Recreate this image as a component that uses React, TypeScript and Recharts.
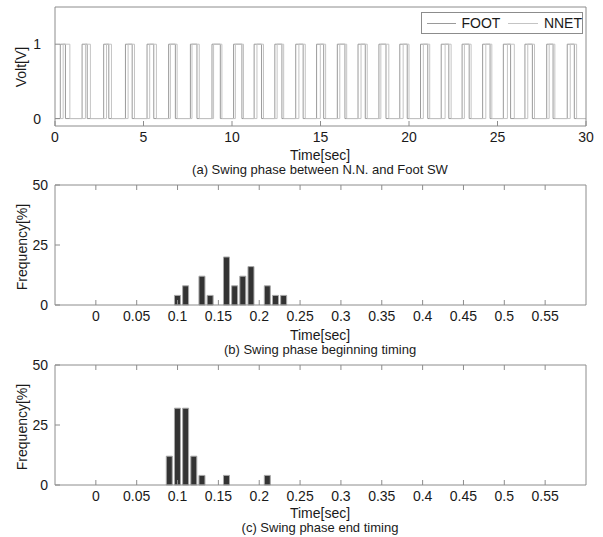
import React from 'react';
import { LineChart, Line, BarChart, Bar, XAxis, YAxis } from 'recharts';

// (a) switch signals: rise / fall times [sec]
const footRise = [0.30, 1.53, 2.75, 3.98, 5.20, 6.42, 7.65, 8.87, 10.09, 11.25, 12.42, 13.60, 14.78, 15.95, 17.12, 18.30, 19.48, 20.65, 21.82, 23.00, 24.16, 25.33, 26.55, 27.78, 28.94];
const footFall = [0.59, 1.82, 3.04, 4.36, 5.58, 6.80, 8.02, 9.34, 10.56, 11.67, 12.82, 14.02, 15.18, 16.38, 17.53, 18.70, 19.90, 21.06, 22.25, 23.40, 24.58, 25.74, 26.97, 28.14, 29.34];
const nnetRise = [0.46, 1.72, 2.91, 4.13, 5.35, 6.52, 7.74, 8.96, 10.19, 11.41, 12.55, 13.78, 14.99, 16.09, 17.29, 18.41, 19.67, 20.81, 22.04, 23.13, 24.34, 25.56, 26.71, 27.92, 29.11];
const nnetFall = [0.84, 2.00, 3.19, 4.49, 5.73, 6.90, 8.15, 9.43, 10.65, 11.78, 12.92, 14.14, 15.29, 16.48, 17.64, 18.86, 20.00, 21.17, 22.38, 23.51, 24.68, 25.95, 27.09, 28.24, 29.47];
const timeTicks = [0, 5, 10, 15, 20, 25, 30];
const voltTicks = [0, 1];

// (b) beginning timing histogram
const beginBins = [0.10, 0.11, 0.13, 0.14, 0.16, 0.17, 0.18, 0.19, 0.21, 0.22, 0.23];
const beginFreq = [4, 8, 12, 4, 20, 8, 12, 16, 8, 4, 4];
// (c) end timing histogram
const endBins = [0.09, 0.10, 0.11, 0.12, 0.13, 0.16, 0.21];
const endFreq = [12, 32, 32, 12, 4, 4, 4];

const histTicks = [0, 0.05, 0.1, 0.15, 0.2, 0.25, 0.3, 0.35, 0.4, 0.45, 0.5, 0.55];
const freqTicks = [0, 25, 50];

const AXIS = '#8c8c8c';
const FONT = '"Liberation Sans", Arial, sans-serif';
const TXT = '#1a1a1a';

const toSteps = (rise: number[], fall: number[]) => {
  const pts = [{ t: 0, v: 0 }];
  rise.forEach((r, i) => {
    pts.push({ t: r, v: 1 });
    pts.push({ t: fall[i], v: 0 });
  });
  pts.push({ t: 30, v: 0 });
  return pts;
};

const toHist = (bins: number[], freq: number[]) => bins.map((b, i) => ({ t: b, f: freq[i] }));

const BottomTick = ({ x, y, payload }: any) => (
  <g>
    <line x1={x} x2={x} y1={y} y2={y - 5} stroke={AXIS} />
    <text x={x} y={y + 16} textAnchor="middle" fontSize={14} fontFamily={FONT} fill={TXT}>
      {String(payload.value)}
    </text>
  </g>
);
const TopTick = ({ x, y }: any) => <line x1={x} x2={x} y1={y} y2={y + 5} stroke={AXIS} />;
const LeftTick = (gap: number) => ({ x, y, payload }: any) => (
  <g>
    <line x1={x} x2={x + 5} y1={y} y2={y} stroke={AXIS} />
    <text x={x - gap} y={y + 5} textAnchor="end" fontSize={14} fontFamily={FONT} fill={TXT}>
      {String(payload.value)}
    </text>
  </g>
);
const RightTick = ({ x, y }: any) => <line x1={x} x2={x - 5} y1={y} y2={y} stroke={AXIS} />;

const axisLine = { stroke: AXIS };

const text = (s: string, left: number, top: number, size = 14, extra: React.CSSProperties = {}) => (
  <div
    style={{
      position: 'absolute',
      left,
      top,
      fontFamily: FONT,
      fontSize: size,
      color: TXT,
      whiteSpace: 'nowrap',
      lineHeight: '12px',
      transform: 'translate(-50%, -50%)',
      ...extra,
    }}
  >
    {s}
  </div>
);

const rot = { transform: 'translate(-50%, -50%) rotate(-90deg)', lineHeight: '16px' };

// plot box of the histograms: x 55..586, height 120 (top offset 10 inside its chart)
const Hist = ({ data, top }: { data: { t: number; f: number }[]; top: number }) => (
  <div style={{ position: 'absolute', left: 0, top }}>
    <BarChart width={603} height={155} data={data} margin={{ top: 9, right: 16, bottom: 24, left: 54 }}>
      <XAxis xAxisId="b" type="number" dataKey="t" domain={[-0.05, 0.6]} ticks={histTicks} interval={0}
        height={1} tickSize={0} tickMargin={0} tickLine={false} axisLine={axisLine} tick={<BottomTick />} />
      <XAxis xAxisId="t" orientation="top" type="number" dataKey="t" domain={[-0.05, 0.6]} ticks={histTicks} interval={0}
        height={1} tickSize={0} tickMargin={0} tickLine={false} axisLine={axisLine} tick={<TopTick />} />
      <YAxis yAxisId="l" type="number" domain={[0, 50]} ticks={freqTicks} interval={0}
        width={1} tickSize={0} tickMargin={0} tickLine={false} axisLine={axisLine} tick={LeftTick(7)} />
      <YAxis yAxisId="r" orientation="right" type="number" domain={[0, 50]} ticks={freqTicks} interval={0}
        width={1} tickSize={0} tickMargin={0} tickLine={false} axisLine={axisLine} tick={<RightTick />} />
      <Bar xAxisId="b" yAxisId="l" dataKey="f" fill="#333333" stroke="#a8a8a8" strokeWidth={1} barSize={6}
        isAnimationActive={false} />
    </BarChart>
  </div>
);

export default function App() {
  const foot = toSteps(footRise, footFall);
  const nnet = toSteps(nnetRise, nnetFall);
  return (
    <div style={{ position: 'absolute', left: 0, top: 0, width: 603, height: 537, background: '#fff' }}>
      <div style={{ position: 'absolute', left: 0, top: 0 }}>
        <LineChart width={603} height={150} margin={{ top: 6, right: 16, bottom: 23, left: 54 }}>
          <XAxis xAxisId="b" type="number" dataKey="t" domain={[0, 30]} ticks={timeTicks} interval={0}
            height={1} tickSize={0} tickMargin={0} tickLine={false} axisLine={axisLine} tick={<BottomTick />} />
          <XAxis xAxisId="t" orientation="top" type="number" dataKey="t" domain={[0, 30]} ticks={timeTicks} interval={0}
            height={1} tickSize={0} tickMargin={0} tickLine={false} axisLine={axisLine} tick={<TopTick />} />
          <YAxis yAxisId="l" type="number" domain={[-0.1, 1.5]} ticks={voltTicks} interval={0}
            width={1} tickSize={0} tickMargin={0} tickLine={false} axisLine={axisLine} tick={LeftTick(14)} />
          <YAxis yAxisId="r" orientation="right" type="number" domain={[-0.1, 1.5]} ticks={voltTicks} interval={0}
            width={1} tickSize={0} tickMargin={0} tickLine={false} axisLine={axisLine} tick={<RightTick />} />
          <Line xAxisId="b" yAxisId="l" data={foot} dataKey="v" type="stepAfter" stroke="#9a9a9a" strokeWidth={1}
            dot={false} isAnimationActive={false} />
          <Line xAxisId="b" yAxisId="l" data={nnet} dataKey="v" type="stepAfter" stroke="#c4c4c4" strokeWidth={1}
            dot={false} isAnimationActive={false} />
        </LineChart>
      </div>
      <div
        style={{
          position: 'absolute', left: 421, top: 12, width: 160, height: 20, border: `1px solid ${AXIS}`,
          background: '#fff', display: 'flex', alignItems: 'center', fontFamily: FONT, fontSize: 14, color: TXT,
        }}
      >
        <span style={{ width: 30, height: 0, borderTop: '1px solid #9a9a9a', marginLeft: 5, marginRight: 6 }} />
        <span>FOOT</span>
        <span style={{ width: 31, height: 0, borderTop: '1px solid #c4c4c4', marginLeft: 8, marginRight: 6 }} />
        <span>NNET</span>
      </div>
      {text('Volt[V]', 21, 67, 14, rot)}
      {text('Time[sec]', 320, 155)}
      {text('(a) Swing phase between N.N. and Foot SW', 320, 170, 13)}

      <Hist data={toHist(beginBins, beginFreq)} top={175} />
      {text('Frequency[%]', 22, 247, 14, rot)}
      {text('Time[sec]', 320, 335)}
      {text('(b) Swing phase beginning timing', 320, 350, 13)}

      <Hist data={toHist(endBins, endFreq)} top={355} />
      {text('Frequency[%]', 22, 427, 14, rot)}
      {text('Time[sec]', 320, 513)}
      {text('(c) Swing phase end timing', 320, 528, 13)}
    </div>
  );
}
